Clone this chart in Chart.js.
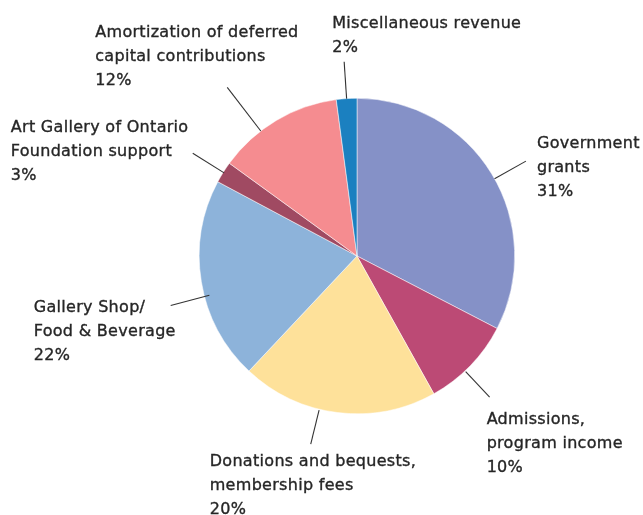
<!DOCTYPE html>
<html>
<head>
<meta charset="utf-8">
<script src="https://cdn.jsdelivr.net/npm/chart.js@4"></script>
<style>
  html, body { margin: 0; padding: 0; background: #fff; }
  #wrap { width: 643px; height: 515px; position: relative; }
</style>
</head>
<body>
<div id="wrap"><canvas id="revenueChart"></canvas></div>
<script>
// slice order: clockwise from 12 o'clock
const categories = [
  ['Government', 'grants'],
  ['Admissions,', 'program income'],
  ['Donations and bequests,', 'membership fees'],
  ['Gallery Shop/', 'Food & Beverage'],
  ['Art Gallery of Ontario', 'Foundation support'],
  ['Amortization of deferred', 'capital contributions'],
  ['Miscellaneous revenue']
];
// slice sizes as drawn (share of revenue, %)
const shares = [32.6, 9.3, 20.1, 20.8, 2.2, 12.9, 2.1];
// printed percentages
const percentLabels = ['31%', '10%', '20%', '22%', '3%', '12%', '2%'];

const sliceColors = ['#8591c7', '#bc4a75', '#fee19a', '#8db3da', '#a04a62', '#f58c90', '#1b80c0'];

// leader line + label placement, per slice
// angle nudge (deg), inner radius delta, outer radius delta, text offset from leader end
const callouts = [
  { turn: 2,    r0: 0,  r1: 36, dx: 11,   dy: -13 },
  { turn: 2.7,  r0: 1,  r1: 36, dx: -3,   dy: 27 },
  { turn: 6.8,  r0: 1,  r1: 36, dx: -101, dy: 22 },
  { turn: -5.5, r0: -5, r1: 35, dx: -137, dy: 7 },
  { turn: 0,    r0: -1, r1: 36, dx: -182, dy: -21 },
  { turn: -6.8, r0: 0,  r1: 55, dx: -132, dy: -50 },
  { turn: 0,    r0: 0,  r1: 37, dx: -12,  dy: -34 }
];

const calloutPlugin = {
  id: 'callouts',
  afterDraw(chart) {
    const ctx = chart.ctx;
    const arcs = chart.getDatasetMeta(0).data;
    ctx.save();
    arcs.forEach((arc, i) => {
      const p = arc.getProps(['x', 'y', 'startAngle', 'endAngle', 'outerRadius'], true);
      const c = callouts[i];
      const a = (p.startAngle + p.endAngle) / 2 + c.turn * Math.PI / 180;
      const x0 = p.x + Math.cos(a) * (p.outerRadius + c.r0);
      const y0 = p.y + Math.sin(a) * (p.outerRadius + c.r0);
      const x1 = p.x + Math.cos(a) * (p.outerRadius + c.r1);
      const y1 = p.y + Math.sin(a) * (p.outerRadius + c.r1);

      ctx.strokeStyle = '#333333';
      ctx.lineWidth = 1.1;
      ctx.beginPath();
      ctx.moveTo(x0, y0);
      ctx.lineTo(x1, y1);
      ctx.stroke();

      // label text, slightly heavier than DejaVu regular
      const lines = categories[i].concat([percentLabels[i]]);
      ctx.fillStyle = '#262626';
      ctx.strokeStyle = '#262626';
      ctx.lineWidth = 0.35;
      ctx.font = '16px "DejaVu Sans"';
      ctx.letterSpacing = '0.3px';
      ctx.textAlign = 'left';
      ctx.textBaseline = 'alphabetic';
      lines.forEach((t, k) => {
        const tx = x1 + c.dx, ty = y1 + c.dy + k * 24;
        ctx.fillText(t, tx, ty);
        ctx.strokeText(t, tx, ty);
      });
    });
    ctx.restore();
  }
};

const ctx = document.getElementById('revenueChart').getContext('2d');
new Chart(ctx, {
  type: 'pie',
  data: {
    labels: categories.map(c => c.join(' ')),
    datasets: [{
      data: shares,
      backgroundColor: sliceColors,
      borderColor: '#ffffff',
      borderWidth: 0.5
    }]
  },
  options: {
    responsive: true,
    maintainAspectRatio: false,
    animation: false,
    layout: { padding: { left: 199, right: 128, top: 98, bottom: 101 } },
    plugins: {
      legend: { display: false },
      tooltip: { enabled: false }
    }
  },
  plugins: [calloutPlugin]
});
</script>
</body>
</html>
